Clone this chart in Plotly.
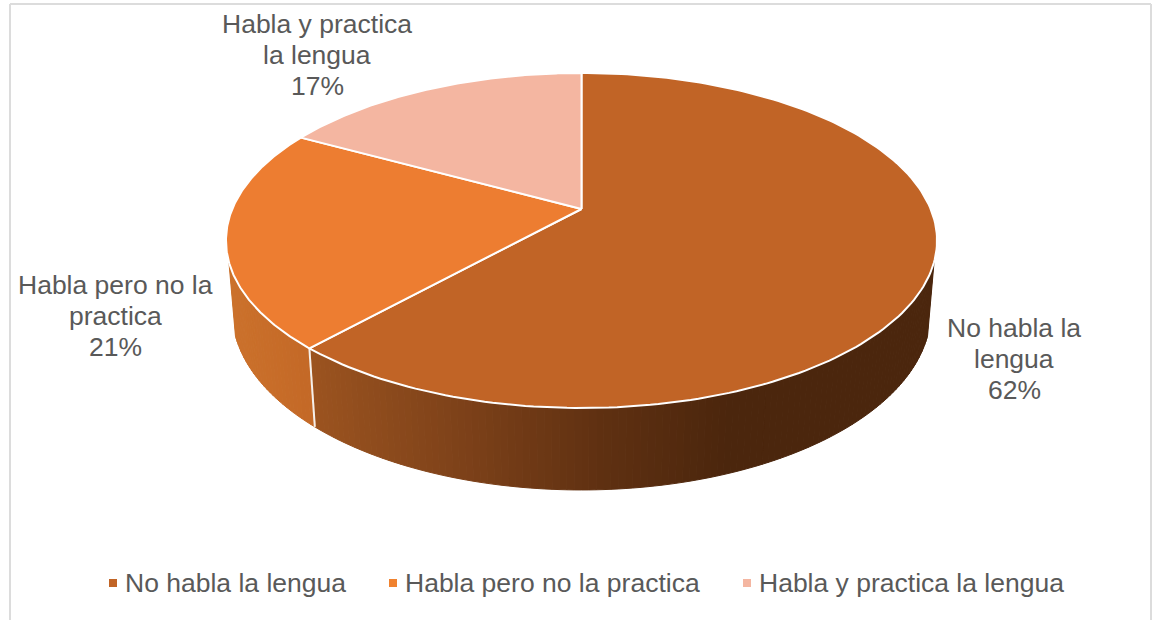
import numpy as np
import plotly.graph_objects as go

# values, labels print them rounded
categories = ["No habla la lengua", "Habla pero no la practica", "Habla y practica la lengua"]
values = [61.7, 21.3, 17.0]
label_lines = [["No habla la", "lengua"], ["Habla pero no la", "practica"], ["Habla y practica", "la lengua"]]

top_colors = ["#C16426", "#ED7D31", "#F4B6A1"]
legend_colors = ["#C16426", "#F0822F", "#F4B6A1"]
text_color = "#595959"
font = "Liberation Sans"

# label block centres and legend marker positions, in page pixels
label_pos = [(1014, 328), (115, 285), (317, 24)]
legend_x = [113, 393, 747]
legend_y = 583
line_gap = 31

# perspective camera for the disc
CX, CY = 581.5, 209
R, H = 349.2, 161.6
K = 0.188        # foreshortening front to back
M, G = 0.0177, 71.5  # shrink and drop of the bottom rim
WALL_FROM, WALL_TO = 108, 252  # visible part of the wall, degrees clockwise from top


def project(deg, t=0.0):
    th = np.radians(deg)
    u, v = np.sin(th), -np.cos(th)
    w = 1 - K * v + M * t
    return CX + R * u / w, CY + (H * v + G * t) / w


def wall_color(x, slice_idx):
    # Excel style lighting: slice one falls off to dark brown on the right
    if slice_idx == 0:
        stops_x = [310, 450, 600, 730]
        stops = [(0x9C, 0x54, 0x20), (0x80, 0x43, 0x1A), (0x60, 0x31, 0x12), (0x4B, 0x26, 0x0D)]
    else:
        stops_x = [228, 310]
        stops = [(0xCC, 0x72, 0x2C), (0xC4, 0x69, 0x27)]
    rgb = [np.interp(x, stops_x, [s[i] for s in stops]) for i in range(3)]
    return "rgb(%d,%d,%d)" % tuple(rgb)


fig = go.Figure()

shares = np.array(values) / sum(values) * 360
edges = np.concatenate([[0], np.cumsum(shares)])

# side wall, thin strips for the gradient
for a in np.arange(WALL_FROM, WALL_TO, 1.0):
    b = min(a + 1.0, WALL_TO)
    idx = 0 if (a + b) / 2 < edges[1] else 1
    x0, y0 = project(a)
    x1, y1 = project(b)
    x2, y2 = project(b, 1)
    x3, y3 = project(a, 1)
    col = wall_color((x0 + x1 + x2 + x3) / 4, idx)
    fig.add_trace(go.Scatter(x=[x0, x1, x2, x3, x0], y=[y0, y1, y2, y3, y0], mode="lines",
                             fill="toself", fillcolor=col, line=dict(color=col, width=1),
                             hoverinfo="skip", showlegend=False))

# seam between the two walls
sx0, sy0 = project(edges[1])
sx1, sy1 = project(edges[1], 1)
fig.add_trace(go.Scatter(x=[sx0, sx1], y=[sy0, sy1], mode="lines",
                         line=dict(color="#F4F0EC", width=2), hoverinfo="skip", showlegend=False))

# top of the pie
for i, name in enumerate(categories):
    arc = np.linspace(edges[i], edges[i + 1], 200)
    px, py = project(arc)
    fig.add_trace(go.Scatter(x=np.concatenate([[CX], px, [CX]]), y=np.concatenate([[CY], py, [CY]]),
                             mode="lines", fill="toself", fillcolor=top_colors[i],
                             line=dict(color="white", width=2), name=name,
                             hoverinfo="name", showlegend=False))

# legend markers
for i, name in enumerate(categories):
    fig.add_trace(go.Scatter(x=[legend_x[i]], y=[legend_y], mode="markers", name=name,
                             marker=dict(symbol="square", size=8, color=legend_colors[i]),
                             hoverinfo="skip", showlegend=False))

annotations = []
for i, lines in enumerate(label_lines):
    cx, cy = label_pos[i]
    for j, txt in enumerate(lines + [f"{round(values[i])}%"]):
        annotations.append(dict(x=cx, y=cy + j * line_gap, text=txt, showarrow=False,
                                xanchor="center", yanchor="middle"))
for i, name in enumerate(categories):
    annotations.append(dict(x=legend_x[i] + 10, y=legend_y, text=name, showarrow=False,
                            xanchor="left", yanchor="middle"))

border = dict(type="line", line=dict(color="#DCDCDC", width=2))
fig.update_layout(
    width=1152, height=620,
    margin=dict(l=0, r=0, t=0, b=0),
    paper_bgcolor="white", plot_bgcolor="white",
    font=dict(family=font, size=26.5, color=text_color),
    xaxis=dict(range=[0, 1152], visible=False, fixedrange=True),
    yaxis=dict(range=[620, 0], visible=False, fixedrange=True),
    annotations=annotations,
    shapes=[
        dict(border, x0=10, x1=10, y0=4, y1=620),
        dict(border, x0=10, x1=1151, y0=4, y1=4),
        dict(border, x0=1151, x1=1151, y0=4, y1=620),
    ],
    showlegend=False,
)

fig.write_html("out.html", config={"displayModeBar": False},
               post_script="document.body.style.margin='0';document.body.style.overflow='hidden';")
